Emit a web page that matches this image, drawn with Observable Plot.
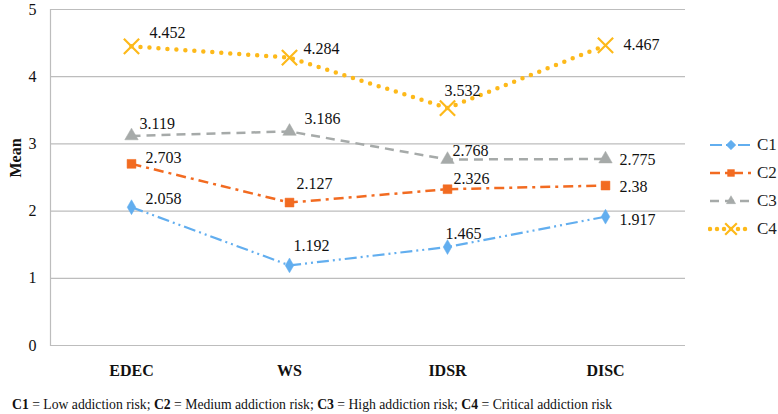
<!DOCTYPE html>
<html><head><meta charset="utf-8">
<script src="https://cdn.jsdelivr.net/npm/d3@7"></script>
<script src="https://cdn.jsdelivr.net/npm/@observablehq/plot@0.6"></script>
<style>
body{margin:0;background:#fff;font-family:"Liberation Serif","Times New Roman",serif;}
#wrap{position:relative;width:778px;height:414px;}
#legend{position:absolute;left:708px;top:131px;}
.li{display:flex;align-items:center;height:28px;font-size:17px;color:#222;}
.li svg{margin-right:3px}
#cap{position:absolute;left:12px;top:397px;font-size:13.7px;color:#111;white-space:nowrap;}
</style></head><body>
<div id="wrap"><div id="chart"></div><div id="legend"></div>
<div id="cap"><b>C1</b> = Low addiction risk; <b>C2</b> = Medium addiction risk; <b>C3</b> = High addiction risk; <b>C4</b> = Critical addiction risk</div></div>
<script>
const categories = ["EDEC","WS","IDSR","DISC"];
const seriesNames = ["C1","C2","C3","C4"];
const C1 = [2.058, 1.192, 1.465, 1.917];
const C2 = [2.703, 2.127, 2.326, 2.38];
const C3 = [3.119, 3.186, 2.768, 2.775];
const C4 = [4.452, 4.284, 3.532, 4.467];
const yTicks = [0,1,2,3,4,5];

const FONT = '"Liberation Serif","Times New Roman",serif';
const values = {C1, C2, C3, C4};
const styles = {
  C1:{color:"#62AEEF", dash:"12,4,2,4,2,4", width:2.2, symbol:"diamond", r:4.5, fill:true, cap:"butt"},
  C2:{color:"#F26B21", dash:"10,5,3,5", width:2.5, symbol:"square", r:5, fill:true, cap:"butt"},
  C3:{color:"#A6AAA9", dash:"9,6", width:2.5, symbol:"triangle", r:5, fill:true, cap:"butt"},
  C4:{color:"#FDB91A", dash:"0,9", width:4.5, symbol:"times", r:7, fill:false, cap:"round"}
};
// label placement (pixel nudges from each point), like manually placed Excel data labels
const labelNudge = {
  C1:[[14,-8],[4,-20],[-2,-13],[14,3]],
  C2:[[14,-6],[7,-19],[6,-10],[14,1]],
  C3:[[8,-12],[15,-13],[5,-9],[14,1]],
  C4:[[18,-13],[14,-9],[-3,-17],[18,0]]
};
const data = seriesNames.flatMap(s => categories.map((c,i)=>({series:s, cat:c, idx:i, value:values[s][i]})));

const labelMarks = [];
data.forEach(d => {
  const [dx, dy] = labelNudge[d.series][d.idx];
  labelMarks.push(Plot.text([d], {x:"cat", y:"value", text:d=>String(d.value), textAnchor:"start", dx, dy, fontSize:16, fill:"#111", fontFamily:FONT}));
});

const chart = Plot.plot({
  width:778, height:390,
  marginLeft:50, marginRight:93, marginTop:9, marginBottom:45,
  style:{fontFamily:FONT, background:"#fff"},
  x:{type:"point", domain:categories, padding:0.5, label:null},
  y:{domain:[0,5], label:null},
  marks:[
    Plot.ruleY(yTicks, {stroke:"#BDBDBD", strokeWidth:1.2}),
    Plot.frame({anchor:"left", stroke:"#BDBDBD", strokeWidth:1.2}),
    ...seriesNames.map(s => Plot.line(data.filter(d=>d.series===s), {x:"cat", y:"value", stroke:styles[s].color, strokeWidth:styles[s].width, strokeDasharray:styles[s].dash, strokeLinecap:styles[s].cap})),
    ...seriesNames.map(s => Plot.dot(data.filter(d=>d.series===s), {x:"cat", y:"value", symbol:()=>styles[s].symbol, r:styles[s].r,
        fill: styles[s].fill ? styles[s].color : "none", stroke: styles[s].color, strokeWidth: styles[s].fill?0.5:2.2})),
    ...labelMarks,
    Plot.axisX({tickSize:0, tickPadding:19, fontSize:16, fontWeight:"bold", label:null, fontFamily:FONT}),
    Plot.axisY({ticks:yTicks, tickFormat:d=>String(d), tickSize:0, tickPadding:14, fontSize:16, label:null, fontFamily:FONT}),
    Plot.text(["Mean"], {frameAnchor:"left", dx:-35, rotate:-90, fontSize:16, fontWeight:"bold", fill:"#111", fontFamily:FONT})
  ]
});
chart.querySelectorAll("text").forEach(t=>{ if(!t.getAttribute("fill")) t.setAttribute("fill","#111"); });
document.getElementById("chart").appendChild(chart);

const leg = document.getElementById("legend");
seriesNames.forEach(s=>{
  const st = styles[s];
  const div = document.createElement("div"); div.className="li";
  const svg = d3.create("svg").attr("width",46).attr("height",20);
  svg.append("line").attr("x1",2).attr("x2",44).attr("y1",10).attr("y2",10)
     .attr("stroke",st.color).attr("stroke-width",st.width).attr("stroke-dasharray", s==="C4"?"0,7":st.dash).attr("stroke-linecap",st.cap);
  const symMap = {diamond:d3.symbolDiamond2, square:d3.symbolSquare2, triangle:d3.symbolTriangle2, times:d3.symbolTimes};
  const size = s==="C4"?90:60;
  svg.append("path").attr("transform","translate(23,10)").attr("d", d3.symbol(symMap[st.symbol], size)())
     .attr("fill", st.fill?st.color:"none").attr("stroke", st.color).attr("stroke-width", st.fill?0.5:2.2);
  div.appendChild(svg.node());
  const sp = document.createElement("span"); sp.textContent = s; div.appendChild(sp);
  leg.appendChild(div);
});
</script></body></html>
